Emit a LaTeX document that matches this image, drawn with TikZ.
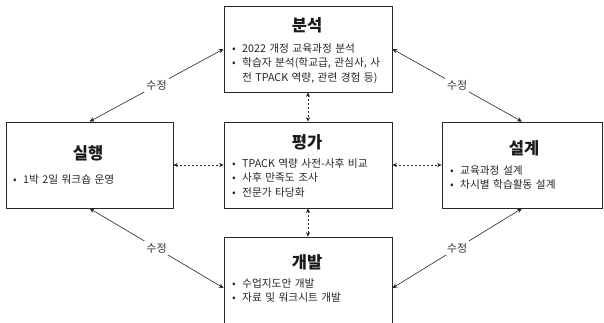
\documentclass[tikz,border=0pt]{standalone}
\usepackage{fontspec}
\setmainfont{Noto Sans CJK KR}
\usetikzlibrary{arrows.meta}
\newcommand{\bl}{\makebox[10pt][l]{•}}
\newcommand{\ind}{\hspace*{10pt}}
\newcommand{\lstfont}{\fontsize{10.7}{14.5}\selectfont\spaceskip=0.32em\relax}
\begin{document}
\begin{tikzpicture}[x=1pt,y=-1pt,
  box/.style={draw=black!85, line width=0.8pt, inner sep=0pt},
  ttl/.style={font=\fontsize{16.5}{19}\selectfont\bfseries, inner sep=0pt, anchor=base, text=black!90},
  lst/.style={font=\lstfont, inner sep=0pt, anchor=base west, text=black!85},
  dasharrow/.style={{Stealth[length=4.5pt,width=4pt]}-{Stealth[length=4.5pt,width=4pt]}, dash pattern=on 2pt off 2pt, line width=0.6pt, draw=black!85},
  solidarrow/.style={{Stealth[length=5pt,width=4.5pt]}-{Stealth[length=5pt,width=4.5pt]}, line width=0.6pt, draw=black!85},
  lbl/.style={fill=white, font=\fontsize{11}{13}\selectfont, inner sep=2pt, text=black!80}]
\useasboundingbox (0,0) rectangle (604,322);
\fill[white] (0,0) rectangle (604,322);

% boxes
\node[box, minimum width=168pt, minimum height=86pt] (ana) at (308,49) {};
\node[box, minimum width=167pt, minimum height=86pt] (imp) at (89.5,165) {};
\node[box, minimum width=168pt, minimum height=86pt] (eva) at (308,165) {};
\node[box, minimum width=160pt, minimum height=86pt] (des) at (522,165) {};
\node[box, minimum width=168pt, minimum height=102pt] (dev) at (308,288) {};

% titles
\node[ttl] (anaT) at (307,31) {분석};
\node[ttl] (impT) at (88,159) {실행};
\node[ttl] (evaT) at (307,148) {평가};
\node[ttl] (desT) at (524,154) {설계};
\node[ttl] (devT) at (307,268) {개발};

% lists
\node[lst] (anaL) at (232,52) {\begin{tabular}[t]{@{}l@{}}
\bl 2022 개정 교육과정 분석\\
\bl 학습자 분석(학교급, 관심사, 사\\
\ind 전 TPACK 역량, 관련 경험 등)
\end{tabular}};
\node[lst] (impL) at (13,183) {\begin{tabular}[t]{@{}l@{}}
\bl 1박 2일 워크숍 운영
\end{tabular}};
\node[lst] (evaL) at (232,167) {\begin{tabular}[t]{@{}l@{}}
\bl TPACK 역량 사전-사후 비교\\
\bl 사후 만족도 조사\\
\bl 전문가 타당화
\end{tabular}};
\node[lst] (desL) at (450,174) {\begin{tabular}[t]{@{}l@{}}
\bl 교육과정 설계\\
\bl 차시별 학습활동 설계
\end{tabular}};
\node[lst] (devL) at (232,287) {\begin{tabular}[t]{@{}l@{}}
\bl 수업지도안 개발\\
\bl 자료 및 워크시트 개발
\end{tabular}};

% dashed connectors
\draw[dasharrow] (ana.south) -- (eva.north);
\draw[dasharrow] (imp.east) -- (eva.west);
\draw[dasharrow] (eva.east) -- (des.west);
\draw[dasharrow] (eva.south) -- (dev.north);

% solid connectors with labels
\draw[solidarrow] (imp.north) -- node[lbl] (l1) {수정} (ana.west);
\draw[solidarrow] (des.north) -- node[lbl] (l2) {수정} (ana.east);
\draw[solidarrow] (imp.south) -- node[lbl] (l3) {수정} (dev.west);
\draw[solidarrow] (des.south) -- node[lbl] (l4) {수정} (dev.east);
\end{tikzpicture}
\end{document}
